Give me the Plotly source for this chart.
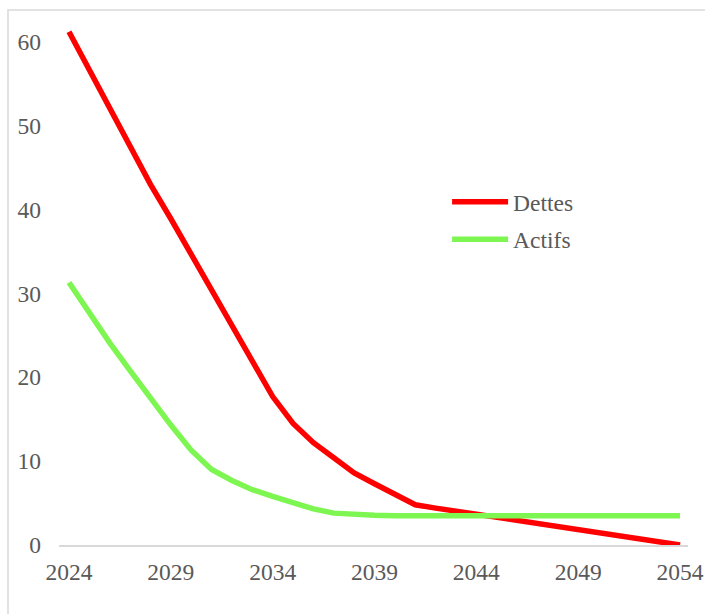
import plotly.graph_objects as go

years = list(range(2024, 2055))
dettes = [61.2, 56.6, 52.1, 47.5, 43.0, 38.9, 34.7, 30.5, 26.3, 22.0,
          17.7, 14.5, 12.2, 10.4, 8.6, 7.3, 6.0, 4.8, 4.4, 4.03,
          3.67, 3.3, 2.93, 2.57, 2.2, 1.83, 1.47, 1.1, 0.73, 0.37, 0.0]
actifs = [31.3, 27.6, 24.1, 20.8, 17.5, 14.3, 11.3, 9.0, 7.7, 6.6,
          5.8, 5.0, 4.3, 3.8, 3.6, 3.55, 3.5, 3.5, 3.5, 3.5,
          3.5, 3.5, 3.5, 3.5, 3.5, 3.5, 3.5, 3.5, 3.5, 3.5, 3.5]
x_ticks = [2024, 2029, 2034, 2039, 2044, 2049, 2054]
y_ticks = [0, 10, 20, 30, 40, 50, 60]

FONT = "Liberation Serif"
TXT = "#595959"
FS = 23.5

fig = go.Figure()
fig.add_trace(go.Scatter(x=years, y=dettes, mode="lines", name="Dettes",
                         legendgroup="d",
                         line=dict(color="#FF0000", width=5.5)))
fig.add_trace(go.Scatter(x=years, y=actifs, mode="lines", name="Actifs",
                         legendgroup="a",
                         line=dict(color="#7EF652", width=5.5)))

fig.update_layout(
    width=705, height=614,
    margin=dict(l=59, r=17, t=25, b=69, autoexpand=False),
    paper_bgcolor="white", plot_bgcolor="white",
    font=dict(family=FONT, size=FS, color=TXT),
    showlegend=True,
    legend=dict(x=0.617, y=0.702, xanchor="left", yanchor="top",
                bgcolor="rgba(0,0,0,0)", itemwidth=56,
                font=dict(family=FONT, size=FS, color=TXT),
                traceorder="grouped", tracegroupgap=4),
    xaxis=dict(range=[2023.51, 2054.39], tickmode="array", tickvals=x_ticks,
               showgrid=False, zeroline=False, showline=True, automargin=False,
               linecolor="#d9d9d9", linewidth=1.5, ticks="",
               ticklabelstandoff=5,
               tickfont=dict(family=FONT, size=FS, color=TXT)),
    yaxis=dict(range=[0, 62], tickmode="array", tickvals=y_ticks,
               showgrid=False, zeroline=False, showline=False, ticks="",
               ticklabelstandoff=17, automargin=False,
               tickfont=dict(family=FONT, size=FS, color=TXT)),
    shapes=[dict(type="rect", xref="paper", yref="paper",
                 x0=(8 - 59) / 629, x1=1.2, y0=-0.3, y1=(545 - 10) / 520,
                 line=dict(color="#d9d9d9", width=1.5), fillcolor="rgba(0,0,0,0)",
                 layer="below")],
)

fig.write_html("out.html")
